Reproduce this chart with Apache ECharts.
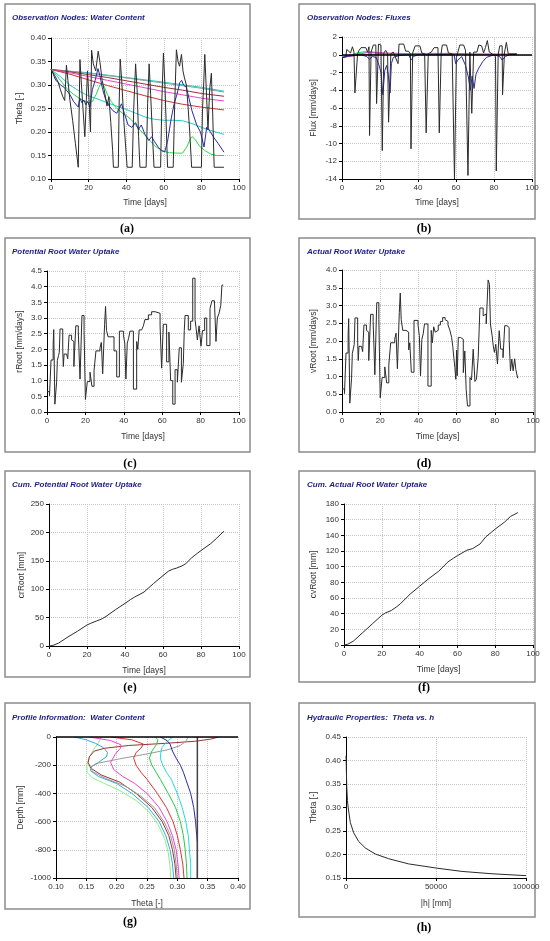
<!DOCTYPE html>
<html>
<head>
<meta charset="utf-8">
<script src="https://cdn.jsdelivr.net/npm/echarts@6/dist/echarts.min.js"></script>
<style>
html, body { margin: 0; padding: 0; background: #fff; }
#chart { width: 550px; height: 941px; }
</style>
</head>
<body>
<div id="chart"></div>
<script>
// (a) observation nodes: water content  [time, theta]
const thetaN1 = [[0,0.333],[1,0.325],[2.5,0.31],[3.8,0.306],[5,0.29],[6.3,0.275],[7.3,0.267],[8.2,0.342],[9,0.31],[10,0.27],[11.5,0.225],[13,0.175],[14.5,0.125],[15.4,0.354],[16.2,0.30],[17,0.25],[18,0.19],[18.8,0.27],[19.4,0.33],[20.2,0.27],[21,0.20],[21.6,0.374],[22.5,0.345],[23.8,0.33],[25.1,0.372],[26,0.35],[27.2,0.31],[28.5,0.285],[29.8,0.255],[30.8,0.275],[31.8,0.22],[32.8,0.16],[33.2,0.125],[35.8,0.125],[36.2,0.25],[36.8,0.355],[37.6,0.31],[38.8,0.22],[40.5,0.125],[43.2,0.125],[44,0.25],[45,0.345],[45.8,0.29],[46.6,0.19],[47.3,0.125],[50.6,0.125],[51.4,0.26],[52.2,0.345],[53,0.28],[54,0.19],[54.8,0.125],[58.3,0.125],[59,0.27],[59.8,0.368],[60.6,0.30],[61.4,0.2],[62,0.125],[65,0.125],[65.8,0.26],[66.7,0.375],[67.6,0.35],[68.4,0.34],[69.4,0.365],[70.2,0.33],[71,0.315],[72,0.30],[72.8,0.26],[73.8,0.2],[74.8,0.125],[80,0.125],[80.6,0.25],[81.2,0.30],[81.8,0.365],[82.5,0.3],[83.5,0.205],[84.4,0.29],[85.3,0.325],[86,0.24],[86.8,0.125],[92,0.125]];
const thetaN2 = [[0,0.333],[2,0.32],[4,0.305],[5,0.30],[6,0.298],[7,0.295],[8,0.29],[10,0.28],[12,0.265],[14.5,0.253],[15.3,0.272],[16.5,0.262],[17.5,0.268],[18.5,0.258],[19.5,0.265],[20.7,0.253],[22,0.29],[23.5,0.31],[25,0.335],[26,0.32],[27.5,0.29],[29,0.27],[31,0.255],[33,0.245],[35,0.24],[37.5,0.26],[39,0.24],[41,0.215],[43,0.21],[45,0.22],[46.5,0.205],[48,0.215],[50,0.195],[52,0.182],[53.5,0.19],[55,0.18],[57,0.168],[59,0.16],[60.5,0.158],[62,0.18],[64,0.23],[65.5,0.26],[67,0.28],[68.5,0.305],[69.5,0.31],[70.5,0.3],[72,0.295],[73.5,0.27],[75,0.245],[77.5,0.215],[79.5,0.2],[81.4,0.168],[82.8,0.21],[84,0.205],[86.3,0.19],[89,0.175],[92,0.157]];
const thetaN3 = [[0,0.333],[3,0.32],[6,0.305],[9,0.29],[12,0.28],[15,0.272],[18,0.265],[20,0.262],[22,0.265],[24,0.28],[25.5,0.295],[27,0.305],[28.5,0.295],[30,0.28],[32,0.265],[35,0.25],[38,0.24],[41,0.232],[43,0.225],[46,0.21],[50,0.193],[53,0.18],[56,0.168],[59,0.16],[63,0.156],[67,0.155],[70,0.155],[71,0.157],[72.5,0.17],[74,0.185],[75,0.19],[76.5,0.185],[79,0.17],[82,0.16],[85,0.153],[88,0.15],[92,0.15]];
const thetaN4 = [[0,0.333],[5,0.318],[10,0.30],[15,0.287],[20,0.277],[25,0.27],[30,0.262],[35,0.255],[40,0.248],[45,0.24],[50,0.232],[55,0.227],[60,0.225],[65,0.225],[70,0.224],[75,0.218],[80,0.21],[85,0.203],[92,0.195]];
const thetaN5 = [[0,0.333],[10,0.323],[20,0.311],[30,0.299],[40,0.288],[50,0.277],[60,0.267],[70,0.259],[80,0.253],[92,0.247]];
const thetaN6 = [[0,0.333],[10,0.326],[20,0.318],[30,0.31],[40,0.302],[50,0.294],[60,0.286],[70,0.279],[80,0.272],[92,0.266]];
const thetaN7 = [[0,0.333],[10,0.328],[20,0.322],[30,0.316],[40,0.309],[50,0.302],[60,0.295],[70,0.289],[80,0.282],[92,0.276]];
const thetaN8 = [[0,0.333],[20,0.325],[40,0.315],[60,0.304],[80,0.293],[92,0.285]];
const thetaN9 = [[0,0.333],[20,0.326],[40,0.316],[60,0.306],[80,0.295],[92,0.287]];

// (b) observation nodes: fluxes  [time, flux]
const fluxN1 = [[0,-0.4],[1,-0.3],[2,-0.2],[2.5,0.6],[3.5,0.7],[4.5,0.2],[5.5,0.9],[6.3,0.3],[6.8,-4.3],[7.8,-4.3],[8.2,0.1],[9,0.5],[10,0.8],[12.5,0.8],[13.5,0.3],[14.2,0.9],[14.5,-9.1],[15,-9.1],[15.3,0.3],[16.5,1.1],[17.8,1.1],[18.2,-5.5],[18.8,-5.5],[19.2,1.2],[20.5,1.1],[21.2,-10.8],[21.7,-10.8],[22,0.2],[23,0.5],[24,0.1],[24.5,-7.6],[25.3,-7.6],[25.7,0.1],[27,0.3],[28,0.2],[29.5,-1.0],[30,1.2],[32.5,1.2],[33.5,0.4],[35,0.4],[36,0.1],[36.3,-10.6],[36.9,-10.6],[37.2,0.2],[38.5,1.0],[41,1.0],[42,0.2],[43.5,0.1],[44.3,-8.8],[45,-8.8],[45.4,0.1],[47,0.3],[48.5,0.8],[50.5,0.8],[51.2,-8.8],[51.8,-8.8],[52.2,0.2],[52.8,1.1],[55,1.1],[56,0.2],[58,0.1],[59.2,-14],[59.8,-14],[60.2,-0.3],[61,0.3],[62,1.1],[64,1.1],[65,0.5],[66.3,-13.6],[66.9,-13.6],[67.3,0.3],[68,0.4],[68.3,-6.6],[68.9,-6.6],[69.3,0.3],[71,0.3],[72,1.1],[73.5,1.0],[74.5,0.2],[75.5,0.8],[76.5,1.6],[77.5,0.3],[79,0.1],[80.8,-0.2],[81.2,-13.1],[81.8,-13.1],[82.2,0],[83,1.0],[84.3,1.0],[84.5,-4.5],[85,-4.5],[85.5,0.2],[86.5,1.4],[87.5,0.1],[92,0.1]];
const fluxN2 = [[0,-0.3],[5,-0.1],[10,0],[13,-0.2],[14.5,-0.5],[16,-0.2],[18,-0.3],[19.5,-1.2],[20.5,-2.0],[21.5,-4.5],[22.5,-1.8],[23.5,-1.2],[24.5,-2.5],[25.3,-4.3],[26,-1.0],[27,-0.3],[30,-0.1],[35,0],[36.5,-0.6],[37.5,-0.2],[40,0],[59,0],[59.8,-1.0],[61,-0.6],[63,-0.2],[65,-1.2],[66.5,-2.5],[67.5,-4.0],[68.5,-2.4],[69.5,-3.8],[70.5,-2.2],[72,-1.5],[74,-0.8],[76,-0.3],[80,0],[83,-0.2],[84.3,-0.6],[86,-0.2],[88,0],[92,0.05]];
const fluxN3 = [[0,-0.3],[5,0],[8,0.2],[12,0.35],[15,0.3],[20,0.15],[30,0.05],[92,0.05]];
const fluxN4 = [[0,-0.2],[8,0.1],[14,0.3],[18,0.25],[25,0.1],[92,0.02]];
const fluxN5 = [[0,-0.3],[10,0],[20,0.1],[40,0.15],[60,0.15],[70,0.05],[92,0.05]];
const fluxN6 = [[0,-0.3],[6,-0.1],[12,0.2],[16,0.3],[22,0.2],[40,0.1],[92,0.05]];

// (c) potential root water uptake  [time, rRoot]
const rootPot = [[0,0.65],[1.3,0.52],[2.1,1.66],[3.2,2.15],[3.5,2.63],[4.1,0.25],[5,0.95],[5.4,1.65],[6,1.8],[6.4,1.9],[6.8,2.65],[8.2,2.0],[8.5,1.45],[8.9,1.85],[10.2,1.85],[10.8,1.7],[11.5,2.45],[12.8,2.3],[13.5,2.25],[14,1.45],[15,2.75],[16.3,2.55],[17.2,1.05],[18.2,3.08],[19.3,2.6],[20,0.4],[21,0.97],[22.4,1.27],[23.4,0.82],[24.5,1.32],[25.5,1.95],[27.6,2.05],[28.3,2.22],[29,1.22],[30,2.8],[30.5,3.37],[31,2.6],[31.8,2.4],[34.9,1.95],[36.3,1.12],[37.7,2.58],[39.8,2.45],[40.5,2.2],[41.1,1.05],[41.8,2.2],[42.5,2.35],[43.2,2.58],[45,0.73],[46.7,2.25],[47.3,2.0],[48,2.62],[49.3,2.6],[50.2,2.75],[51,2.95],[52.8,3.1],[54.5,3.2],[56.3,3.15],[58.9,2.75],[59.7,1.4],[60.6,2.8],[62.3,1.6],[63.5,2.55],[64.4,1.0],[65.5,0.25],[66.7,1.35],[67.9,0.95],[68.9,2.05],[70,0.95],[71,1.55],[71.5,2.6],[71.9,3.08],[73.6,2.62],[74.8,2.9],[75.9,4.27],[77.1,2.95],[77.7,2.65],[78.3,2.3],[79.2,2.75],[80.2,2.1],[81,2.6],[82.1,3.0],[83.2,2.12],[84.9,3.3],[85.9,3.55],[87.2,3.6],[88,2.25],[88.7,3.0],[89.6,3.15],[90.5,3.4],[91.1,4.05],[91.8,4.05]];

// (d) actual root water uptake  [time, vRoot]
const rootAct = [[0,0.65],[1.3,0.52],[2.1,1.66],[3.2,2.15],[3.5,2.63],[4.1,0.25],[5,0.95],[5.4,1.65],[6,1.8],[6.4,1.9],[6.8,2.65],[8.2,2.0],[8.5,1.45],[8.9,1.85],[10.2,1.85],[10.8,1.7],[11.5,2.45],[12.8,2.3],[13.5,2.25],[14,1.45],[15,2.75],[16.3,2.55],[17.2,1.05],[18.2,3.08],[19.3,2.6],[20,0.4],[21,0.97],[22.4,1.27],[23.4,0.82],[24.5,1.32],[25.5,1.95],[27.6,2.05],[28.3,2.22],[29,1.22],[30,2.8],[30.5,3.35],[31,2.6],[31.8,2.3],[33.5,2.25],[34.9,1.75],[35.5,1.95],[36.3,1.12],[37.7,2.58],[39.8,2.45],[40.5,2.15],[41.1,1.02],[41.8,2.05],[42.5,2.2],[43.2,2.48],[45,0.73],[46.7,2.3],[47.3,1.95],[48,2.4],[48.8,2.25],[49.5,2.3],[50.4,2.45],[51.5,2.55],[52.7,2.66],[54,2.6],[54.8,2.55],[55.5,2.45],[56.5,2.3],[57.4,2.1],[58,1.85],[58.6,1.5],[59.1,1.25],[59.6,0.92],[60,1.74],[60.3,1.02],[60.9,2.1],[62,2.12],[62.6,2.05],[63.5,1.11],[64.3,1.72],[65,0.64],[65.7,0.17],[67,0.97],[67.8,0.9],[68.7,1.77],[69.6,0.86],[70.4,0.92],[71.3,1.53],[72.2,2.93],[73.9,2.71],[74.8,2.76],[75.5,2.48],[76.5,3.72],[77.2,3.6],[77.7,2.48],[78.6,2.15],[79.2,1.86],[79.8,1.68],[80.5,1.91],[81.4,1.35],[82.3,2.29],[83.1,1.77],[84.3,1.53],[85.2,2.43],[86.4,2.38],[87.5,2.05],[88.2,1.16],[88.9,1.49],[89.6,1.16],[90.4,1.5],[91,1.2],[92,0.95]];

// (e) cumulative potential, (f) cumulative actual  [time, mm]
const cumPot = [[0,0],[2,1],[5,5],[10,16],[15,26],[20,37],[22,40],[25,44],[28,48],[30,52],[35,64],[40,75],[43,82],[45,86],[50,95],[55,110],[60,124],[63,132],[65,135],[67,137],[70,141],[72,145],[75,155],[78,163],[80,168],[85,180],[88,189],[92,202]];
const cumAct = [[0,0],[2,1],[5,5],[10,16],[15,27],[20,38],[22,41],[25,44],[28,49],[30,53],[35,65],[40,75],[45,85],[50,94],[55,106],[58,111],[60,114],[65,121],[68,123],[72,129],[75,138],[78,144],[80,148],[85,157],[88,164],[92,169]];

// (g) profile water content  [theta, depth]
const profInit = [[0.333,0],[0.333,-1000]];
const profP1 = [[0.272,0],[0.283,-25],[0.288,-50],[0.292,-100],[0.298,-150],[0.305,-200],[0.31,-250],[0.314,-300],[0.322,-400],[0.327,-500],[0.33,-600],[0.332,-700],[0.333,-750],[0.333,-1000]];
const profP2 = [[0.293,0],[0.285,-25],[0.279,-50],[0.275,-75],[0.273,-100],[0.272,-150],[0.276,-200],[0.282,-250],[0.29,-300],[0.3,-400],[0.308,-500],[0.314,-600],[0.318,-700],[0.32,-800],[0.322,-900],[0.322,-1000]];
const profP3 = [[0.264,0],[0.268,-20],[0.266,-50],[0.258,-100],[0.254,-150],[0.258,-200],[0.265,-250],[0.272,-300],[0.285,-400],[0.297,-500],[0.305,-600],[0.31,-700],[0.313,-800],[0.315,-900],[0.316,-1000]];
const profP4 = [[0.19,0],[0.225,-20],[0.244,-50],[0.24,-80],[0.232,-110],[0.228,-150],[0.232,-200],[0.24,-250],[0.25,-300],[0.267,-400],[0.282,-500],[0.293,-600],[0.3,-700],[0.305,-800],[0.309,-900],[0.311,-1000]];
const profP5 = [[0.155,0],[0.19,-25],[0.207,-55],[0.206,-80],[0.198,-120],[0.19,-180],[0.195,-230],[0.21,-280],[0.23,-330],[0.25,-400],[0.27,-500],[0.283,-600],[0.292,-700],[0.298,-800],[0.301,-900],[0.303,-1000]];
const profP6 = [[0.13,0],[0.15,-20],[0.165,-45],[0.178,-75],[0.185,-110],[0.183,-140],[0.17,-180],[0.158,-210],[0.157,-240],[0.17,-280],[0.2,-330],[0.225,-400],[0.252,-500],[0.27,-600],[0.281,-700],[0.288,-800],[0.292,-900],[0.294,-1000]];
const profP7 = [[0.368,0],[0.355,-15],[0.33,-30],[0.28,-45],[0.22,-60],[0.18,-80],[0.163,-100],[0.155,-140],[0.153,-180],[0.157,-220],[0.175,-270],[0.205,-320],[0.232,-400],[0.258,-500],[0.275,-600],[0.286,-700],[0.292,-800],[0.296,-900],[0.298,-1000]];
const profP8 = [[0.318,0],[0.314,-30],[0.305,-60],[0.285,-90],[0.25,-120],[0.205,-155],[0.17,-185],[0.158,-210],[0.16,-245],[0.18,-290],[0.215,-350],[0.24,-420],[0.262,-500],[0.278,-600],[0.289,-700],[0.295,-800],[0.298,-900],[0.3,-1000]];
const profP9 = [[0.175,0],[0.17,-40],[0.162,-90],[0.155,-140],[0.151,-200],[0.151,-250],[0.16,-290],[0.18,-330],[0.205,-380],[0.232,-450],[0.253,-530],[0.268,-620],[0.279,-720],[0.285,-820],[0.288,-920],[0.289,-1000]];

// (h) retention curve  [|h|, theta]
const retention = [[0,0.41],[100,0.40],[200,0.38],[400,0.345],[800,0.315],[1200,0.3],[2400,0.268],[4300,0.246],[7000,0.228],[10700,0.214],[16300,0.201],[23700,0.191],[34800,0.18],[50400,0.171],[64400,0.164],[81100,0.159],[100000,0.155]];

const FONT = '"Liberation Sans", Arial, sans-serif';
const chart = echarts.init(document.getElementById('chart'), null, { renderer: 'canvas' });

const grids = [
  { left: 51, top: 38, width: 188, height: 141 },
  { left: 342, top: 37, width: 190, height: 142 },
  { left: 47, top: 271, width: 192, height: 141 },
  { left: 342, top: 270, width: 191, height: 142 },
  { left: 49, top: 504, width: 190, height: 142 },
  { left: 344, top: 504, width: 189, height: 141 },
  { left: 56, top: 737, width: 182, height: 141 },
  { left: 346, top: 737, width: 180, height: 141 }
];

function axis(g, min, max, step, name, gap, fmt) {
  return {
    type: 'value', gridIndex: g, min: min, max: max, interval: step,
    name: name, nameLocation: 'middle', nameGap: gap,
    nameTextStyle: { fontSize: 8.5, color: '#333', fontFamily: FONT },
    axisLine: { show: true, onZero: false, lineStyle: { color: '#000', width: 1 } },
    axisTick: { show: true, length: 3, lineStyle: { color: '#000' } },
    axisLabel: { show: true, fontSize: 8, color: '#333', fontFamily: FONT, margin: 5, formatter: fmt },
    splitLine: { show: true, lineStyle: { color: '#c4c4c4', type: 'dotted', width: 1 } }
  };
}
const f0 = v => String(v);
const f1 = v => v.toFixed(1);
const f2 = v => v.toFixed(2);

const xAxes = [
  axis(0, 0, 100, 20, 'Time [days]', 19, f0),
  axis(1, 0, 100, 20, 'Time [days]', 19, f0),
  axis(2, 0, 100, 20, 'Time [days]', 20, f0),
  axis(3, 0, 100, 20, 'Time [days]', 20, f0),
  axis(4, 0, 100, 20, 'Time [days]', 20, f0),
  axis(5, 0, 100, 20, 'Time [days]', 20, f0),
  axis(6, 0.10, 0.40, 0.05, 'Theta [-]', 21, f2),
  axis(7, 0, 100000, 50000, '|h| [mm]', 21, f0)
];
const yAxes = [
  axis(0, 0.10, 0.40, 0.05, 'Theta [-]', 27, f2),
  axis(1, -14, 2, 2, 'Flux [mm/days]', 24, f0),
  axis(2, 0, 4.5, 0.5, 'rRoot [mm/days]', 23, f1),
  axis(3, 0, 4.0, 0.5, 'vRoot [mm/days]', 24, f1),
  axis(4, 0, 250, 50, 'crRoot [mm]', 23, f0),
  axis(5, 0, 180, 20, 'cvRoot [mm]', 26, f0),
  axis(6, -1000, 0, 200, 'Depth [mm]', 31, f0),
  axis(7, 0.15, 0.45, 0.05, 'Theta [-]', 28, f2)
];

function line(idx, data, color, extra) {
  return Object.assign({
    type: 'line', xAxisIndex: idx, yAxisIndex: idx, data: data,
    showSymbol: false, symbol: 'none', silent: true, animation: false,
    lineStyle: { color: color, width: 1 }
  }, extra || {});
}
const zeroLine = {
  markLine: {
    silent: true, symbol: 'none', label: { show: false }, animation: false,
    lineStyle: { color: '#000', width: 1.5, type: 'solid' },
    data: [{ yAxis: 0 }]
  }
};

const series = [
  // (a)
  line(0, thetaN9, '#22cccc'),
  line(0, thetaN8, '#8aa0a0'),
  line(0, thetaN7, '#993333'),
  line(0, thetaN6, '#ee44cc'),
  line(0, thetaN5, '#cc3333'),
  line(0, thetaN4, '#22cccc'),
  line(0, thetaN3, '#22dd44'),
  line(0, thetaN2, '#2a2aa8'),
  line(0, thetaN1, '#2b2b2b'),
  // (b)
  line(1, fluxN3, '#22dd44'),
  line(1, fluxN4, '#22cccc'),
  line(1, fluxN5, '#dd3333'),
  line(1, fluxN6, '#ee44cc'),
  line(1, fluxN2, '#2a2aa8'),
  line(1, fluxN1, '#2b2b2b', zeroLine),
  // (c) (d)
  line(2, rootPot, '#2b2b2b', { step: 'end' }),
  line(3, rootAct, '#2b2b2b', { step: 'end' }),
  // (e) (f)
  line(4, cumPot, '#2b2b2b'),
  line(5, cumAct, '#2b2b2b'),
  // (g)
  line(6, profP9, '#88ee88'),
  line(6, profP6, '#33aadd'),
  line(6, profP7, '#993333'),
  line(6, profP8, '#999999'),
  line(6, profP5, '#ee44cc'),
  line(6, profP4, '#dd3333'),
  line(6, profP3, '#22cc44'),
  line(6, profP2, '#22dddd'),
  line(6, profP1, '#2a2aa8'),
  line(6, profInit, '#444444', Object.assign({}, zeroLine, { lineStyle: { color: '#444', width: 1.5 } })),
  // (h)
  line(7, retention, '#2b2b2b')
];

const frames = [
  [5, 4, 245, 214], [299, 4, 236, 215],
  [5, 238, 245, 214], [299, 238, 236, 214],
  [5, 471, 245, 206], [299, 471, 236, 211],
  [5, 703, 245, 206], [299, 703, 236, 214]
];
const titles = [
  ['Observation Nodes: Water Content', 12, 18],
  ['Observation Nodes: Fluxes', 307, 18],
  ['Potential Root Water Uptake', 12, 252],
  ['Actual Root Water Uptake', 307, 252],
  ['Cum. Potential Root Water Uptake', 12, 485],
  ['Cum. Actual Root Water Uptake', 307, 485],
  ['Profile Information:  Water Content', 12, 718],
  ['Hydraulic Properties:  Theta vs. h', 307, 718]
];
const tags = [
  ['(a)', 127, 229], ['(b)', 424, 229],
  ['(c)', 130, 464], ['(d)', 424, 464],
  ['(e)', 130, 688], ['(f)', 424, 688],
  ['(g)', 130, 922], ['(h)', 424, 928]
];

const graphic = [];
frames.forEach(f => graphic.push({
  type: 'rect', silent: true, z: 0,
  shape: { x: f[0], y: f[1], width: f[2], height: f[3] },
  style: { fill: 'none', stroke: '#8c8c8c', lineWidth: 1.5 }
}));
titles.forEach(t => graphic.push({
  type: 'text', silent: true, x: t[1], y: t[2],
  style: {
    text: t[0], fill: '#1c1c84', fontFamily: FONT, fontSize: 8,
    fontWeight: 'bold', fontStyle: 'italic', verticalAlign: 'middle'
  }
}));
tags.forEach(t => graphic.push({
  type: 'text', silent: true, x: t[1], y: t[2],
  style: {
    text: t[0], fill: '#000', fontFamily: '"Liberation Serif", "Times New Roman", serif',
    fontSize: 12, fontWeight: 'bold', align: 'center', verticalAlign: 'middle'
  }
}));

chart.setOption({
  backgroundColor: '#ffffff',
  animation: false,
  grid: grids.map(g => Object.assign({ containLabel: false, outerBoundsMode: 'none' }, g)),
  xAxis: xAxes,
  yAxis: yAxes,
  series: series,
  graphic: graphic
});
</script>
</body>
</html>
